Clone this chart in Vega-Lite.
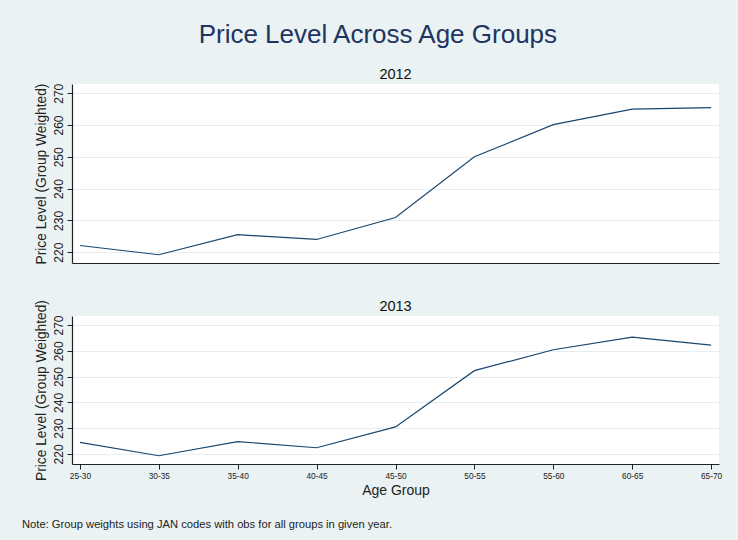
{
  "$schema": "https://vega.github.io/schema/vega-lite/v6.json",
  "background": "#EAF2F3",
  "padding": {"left": 21, "top": 21, "right": 17, "bottom": 10},
  "config": {
    "font": "Liberation Sans",
    "view": {"fill": "white", "stroke": null},
    "axis": {
      "domainColor": "#222222",
      "domainWidth": 1.2,
      "tickColor": "#222222",
      "labelColor": "#222222",
      "titleColor": "#222222",
      "titleFontWeight": "normal",
      "gridColor": "#E6EEF1",
      "gridWidth": 1.2
    },
    "title": {"fontWeight": "normal"}
  },
  "title": {
    "text": "Note: Group weights using JAN codes with obs for all groups in given year.",
    "orient": "bottom",
    "anchor": "start",
    "fontSize": 11.2,
    "color": "#222222",
    "offset": 22,
    "dx": -12
  },
  "data": {
    "values": [
      {"year": 2012, "age": "25-30", "price": 222.1},
      {"year": 2012, "age": "30-35", "price": 219.2},
      {"year": 2012, "age": "35-40", "price": 225.5},
      {"year": 2012, "age": "40-45", "price": 224.0},
      {"year": 2012, "age": "45-50", "price": 230.9},
      {"year": 2012, "age": "50-55", "price": 250.0},
      {"year": 2012, "age": "55-60", "price": 260.1},
      {"year": 2012, "age": "60-65", "price": 265.0},
      {"year": 2012, "age": "65-70", "price": 265.5},
      {"year": 2013, "age": "25-30", "price": 224.5},
      {"year": 2013, "age": "30-35", "price": 219.3},
      {"year": 2013, "age": "35-40", "price": 224.8},
      {"year": 2013, "age": "40-45", "price": 222.4},
      {"year": 2013, "age": "45-50", "price": 230.5},
      {"year": 2013, "age": "50-55", "price": 252.3},
      {"year": 2013, "age": "55-60", "price": 260.4},
      {"year": 2013, "age": "60-65", "price": 265.3},
      {"year": 2013, "age": "65-70", "price": 262.2}
    ]
  },
  "vconcat": [
    {
      "title": {
        "text": "Price Level Across Age Groups",
        "fontSize": 26,
        "color": "#1F3461",
        "anchor": "middle",
        "offset": 19
      },
      "spacing": 34,
      "vconcat": [
        {
          "width": 647,
          "height": 179,
          "title": {"text": "2012", "fontSize": 14.5, "color": "#111111", "offset": 1},
          "transform": [{"filter": "datum.year == 2012"}],
          "mark": {"type": "line", "color": "#1A476F", "strokeWidth": 1.2},
          "encoding": {
            "x": {
              "field": "age", "type": "ordinal", "sort": null,
              "scale": {"type": "point", "padding": 0.1},
              "axis": {"labels": false, "ticks": false, "title": null, "grid": false}
            },
            "y": {
              "field": "price", "type": "quantitative",
              "scale": {"domain": [216.6, 272.9], "nice": false, "zero": false},
              "axis": {
                "values": [220, 230, 240, 250, 260, 270],
                "labelAngle": -90, "labelAlign": "center", "labelBaseline": "bottom",
                "labelFontSize": 12, "labelPadding": 2, "tickSize": 5,
                "title": "Price Level (Group Weighted)", "titleFontSize": 13.75, "titlePadding": 4
              }
            }
          }
        },
        {
          "width": 647,
          "height": 148,
          "title": {"text": "2013", "fontSize": 14.5, "color": "#111111", "offset": -14.5},
          "transform": [{"filter": "datum.year == 2013"}],
          "mark": {"type": "line", "color": "#1A476F", "strokeWidth": 1.2},
          "encoding": {
            "x": {
              "field": "age", "type": "ordinal", "sort": null,
              "scale": {"type": "point", "padding": 0.1},
              "axis": {
                "labelAngle": 0, "labelFontSize": 8.3, "tickSize": 5, "labelPadding": 2,
                "grid": false, "title": "Age Group", "titleFontSize": 14, "titlePadding": 4
              }
            },
            "y": {
              "field": "price", "type": "quantitative",
              "scale": {"domain": [216.1, 273.5], "nice": false, "zero": false},
              "axis": {
                "values": [220, 230, 240, 250, 260, 270],
                "labelAngle": -90, "labelAlign": "center", "labelBaseline": "bottom",
                "labelFontSize": 12, "labelPadding": 2, "tickSize": 5,
                "title": "Price Level (Group Weighted)", "titleFontSize": 13.75, "titlePadding": 4
              }
            }
          }
        }
      ]
    }
  ]
}
